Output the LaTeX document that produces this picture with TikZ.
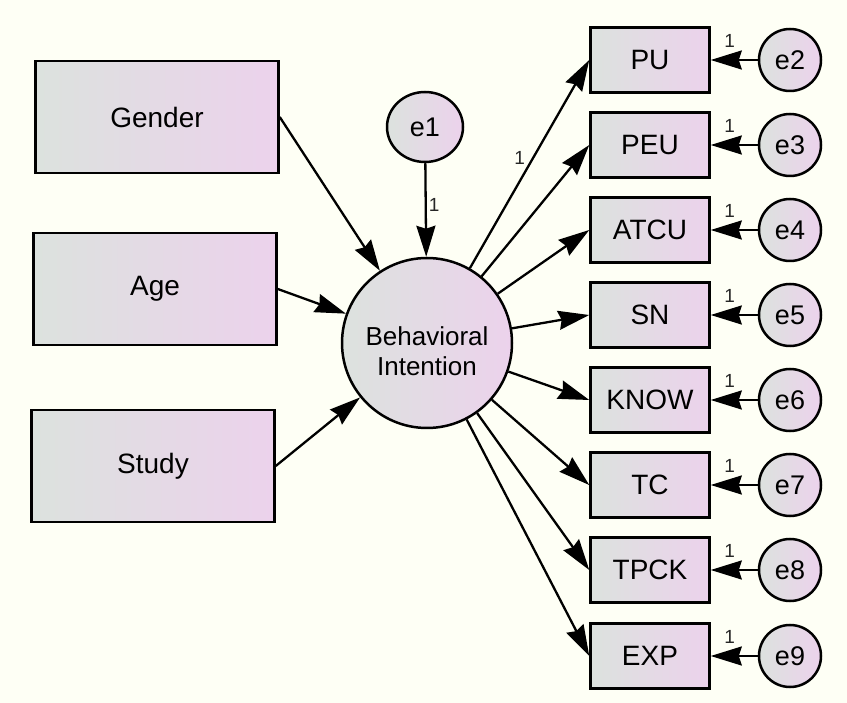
\documentclass[tikz,border=0pt]{standalone}
\usepackage{fontspec}
\setmainfont{Liberation Sans}
\usetikzlibrary{arrows.meta, shapes.geometric}
\definecolor{amos_bg}{RGB}{254,255,245}
\definecolor{amos_grey}{RGB}{220,226,222}
\definecolor{amos_pink}{RGB}{236,210,236}

\begin{document}
\begin{tikzpicture}[x=1pt, y=-1pt, >={Stealth[length=31pt, width=19pt, inset=3pt]},
      obs/.style={draw, line width=2.5pt, left color=amos_grey, right color=amos_pink,
        font=\fontsize{28}{33}\selectfont, inner sep=0pt},
      big/.style={obs, minimum width=243pt, minimum height=112pt},
      small/.style={obs, minimum width=119pt, minimum height=65pt},
      latent/.style={draw, line width=2.5pt, circle, left color=amos_grey, right color=amos_pink,
        font=\fontsize{26}{30}\selectfont, align=center, minimum size=170pt, inner sep=0pt,
        text height=66pt},
      err/.style={draw, line width=2.5pt, ellipse, left color=amos_grey, right color=amos_pink,
        font=\fontsize{27}{30}\selectfont, inner sep=0pt},
      path/.style={->, line width=2.3pt},
      num/.style={font=\fontsize{19}{21}\selectfont, text=black!85, inner sep=1pt}]
    \fill[amos_bg] (0,0) rectangle (847,703);
    \useasboundingbox (0,0) rectangle (847,703);
    \node[big] (gen) at (157,117) {Gender};
    \node[big] (age) at (155,289) {Age};
    \node[big] (stu) at (153,466) {Study};
    \node[latent] (bi) at (427,343) {Behavioral\\ Intention};
    \node[err, minimum width=76pt, minimum height=70pt] (e1) at (425,127) {e1};
    \foreach \n/\txt/\e/\y in {pu/PU/e2/60, peu/PEU/e3/145, atcu/ATCU/e4/230, sn/SN/e5/315,
        know/KNOW/e6/400, tc/TC/e7/485, tpck/TPCK/e8/570, exp/EXP/e9/656} {
      \node[small] (\n) at (650,\y) {\txt};
      \node[err, minimum width=62pt, minimum height=62pt] (\e) at (790,\y) {\e};
      \draw[path] (\e) -- node[num, pos=0.6, above=10pt]{1} (\n.east);
    }
    \draw[path] (gen.east) -- (bi);
    \draw[path] (age.east) -- (bi);
    \draw[path] (stu.east) -- (bi);
    \draw[path] (e1) -- node[num, pos=0.45, right=1pt]{1} (bi);
    \draw[path] (bi) -- node[num, pos=0.53, left=6pt]{1} (pu.west);
    \foreach \n in {peu, atcu, sn, know, tc, tpck, exp}
      \draw[path] (bi) -- (\n.west);
  \end{tikzpicture}
\end{document}
